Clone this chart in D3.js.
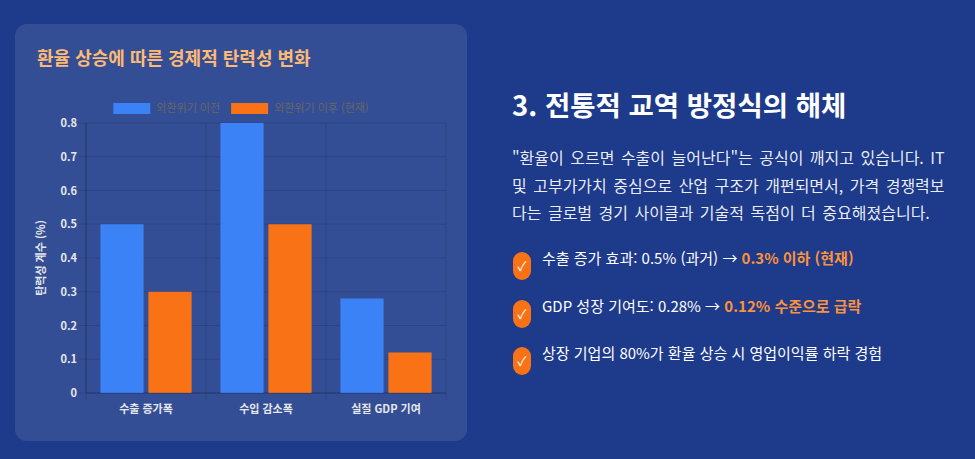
<!DOCTYPE html>
<html lang="ko">
<head>
<meta charset="utf-8">
<script src="https://cdn.jsdelivr.net/npm/d3@7"></script>
<style>
  html, body { margin: 0; padding: 0; }
  body {
    width: 975px; height: 459px; overflow: hidden; position: relative;
    background: #1e3a8a;
    font-family: "Noto Sans CJK KR", "Noto Sans", sans-serif;
    color: #fff;
  }
  .card {
    position: absolute; left: 15px; top: 24px; width: 452px; height: 417px;
    background: rgba(255,255,255,0.1); border-radius: 12px;
  }
  .card svg { position: absolute; left: 0; top: 0; }
  .side { position: absolute; left: 512px; top: 0; width: 450px; }
  .side h2 {
    position: absolute; top: 85px; left: 0; margin: 0;
    font-size: 27.5px; line-height: 38px; font-weight: 700; white-space: nowrap;
  }
  .side p {
    position: absolute; top: 144px; left: 0; margin: 0;
    font-size: 16px; line-height: 27.5px; word-spacing: 2px;
    color: rgba(255,255,255,0.92); white-space: nowrap;
  }
  .side ul { position: absolute; top: 247px; left: 0; margin: 0; padding: 0; list-style: none; }
  .side li {
    position: relative; height: 47.5px; padding-left: 30px;
    font-size: 15px; line-height: 22px; white-space: nowrap; color: #fff;
  }
  .side li .chk {
    position: absolute; left: 1px; top: 5px; width: 18px; height: 28px;
    border-radius: 9px; background: #f97316; color: #fff;
    font-size: 13px; line-height: 28px; text-align: center;
  }
  .side li b { color: #fb923c; font-weight: 700; }
</style>
</head>
<body>
<div class="card"><svg id="chart"></svg></div>
<div class="side">
  <h2>3. 전통적 교역 방정식의 해체</h2>
  <p>"환율이 오르면 수출이 늘어난다"는 공식이 깨지고 있습니다. IT<br>및 고부가가치 중심으로 산업 구조가 개편되면서, 가격 경쟁력보<br>다는 글로벌 경기 사이클과 기술적 독점이 더 중요해졌습니다.</p>
  <ul>
    <li><span class="chk">✓</span>수출 증가 효과: 0.5% (과거) → <b>0.3% 이하 (현재)</b></li>
    <li><span class="chk">✓</span>GDP 성장 기여도: 0.28% → <b>0.12% 수준으로 급락</b></li>
    <li><span class="chk">✓</span>상장 기업의 80%가 환율 상승 시 영업이익률 하락 경험</li>
  </ul>
</div>
<script>
const chartTitle = '환율 상승에 따른 경제적 탄력성 변화';
const categories = ['수출 증가폭', '수입 감소폭', '실질 GDP 기여'];
const seriesNames = ['외환위기 이전', '외환위기 이후 (현재)'];
const beforeCrisis = [0.5, 0.8, 0.28];
const afterCrisis = [0.3, 0.5, 0.12];
const yTicks = [0, 0.1, 0.2, 0.3, 0.4, 0.5, 0.6, 0.7, 0.8];
const yTitle = '탄력성 계수 (%)';
const colors = ['#3b82f6', '#f97316'];

const W = 452, H = 417;
const margin = {top: 99, right: 21, bottom: 48, left: 71};
const width = W - margin.left - margin.right,
  height = H - margin.top - margin.bottom;

const svgTop = d3.select('#chart').attr('width', W).attr('height', H);
const font = '"Noto Sans CJK KR", sans-serif';

svgTop.append('text')
  .attr('x', 22).attr('y', 41)
  .attr('fill', '#fdba74')
  .attr('font-family', font).attr('font-size', 18).attr('font-weight', 700)
  .text(chartTitle);

// legend, centred on card like Chart.js does
const legend = svgTop.append('g').attr('class', 'legend');
const items = legend.selectAll('g').data(seriesNames).enter().append('g');
items.append('rect')
  .attr('width', 37).attr('height', 11)
  .attr('fill', (d, i) => colors[i]);
items.append('text')
  .attr('x', 43).attr('y', 5.5).attr('dy', '0.35em')
  .attr('fill', '#666')
  .attr('font-family', font).attr('font-size', 11)
  .text(d => d);
let off = 0;
const offs = [];
items.each(function () {
  offs.push(off);
  off += 43 + this.querySelector('text').getComputedTextLength() + 11;
});
const legendW = off - 11;
items.attr('transform', (d, i) => `translate(${W / 2 - legendW / 2 + offs[i]},79)`);

const svg = svgTop.append('g')
  .attr('transform', `translate(${margin.left},${margin.top})`);

const x0 = d3.scaleBand().domain(categories).range([0, width]);
const x1 = d3.scaleBand()
  .domain(seriesNames)
  .range([x0.bandwidth() * 0.1, x0.bandwidth() * 0.9]);
const barW = x1.bandwidth() * 0.9;

const y = d3.scaleLinear().domain([0, 0.8]).range([height, 0]);

const gridColor = 'rgba(0,0,0,0.12)';

// horizontal grid
svg.append('g').selectAll('line').data(yTicks).enter().append('line')
  .attr('x1', -8).attr('x2', width)
  .attr('y1', d => y(d)).attr('y2', d => y(d))
  .attr('stroke', gridColor);

// vertical grid at category edges
const edges = categories.map(c => x0(c)).concat([width]);
svg.append('g').selectAll('line').data(edges).enter().append('line')
  .attr('x1', d => d).attr('x2', d => d)
  .attr('y1', 0).attr('y2', height + 8)
  .attr('stroke', gridColor);

const rows = categories.map((c, i) => ({cat: c, vals: [beforeCrisis[i], afterCrisis[i]]}));

svg.selectAll('.bar-group')
  .data(rows)
  .enter().append('g')
    .attr('class', 'bar-group')
    .attr('transform', d => `translate(${x0(d.cat)},0)`)
    .selectAll('rect')
      .data(d => d.vals)
      .enter().append('rect')
      .attr('x', (d, i) => x1(seriesNames[i]) + (x1.bandwidth() - barW) / 2)
      .attr('width', barW)
      .attr('y', d => y(d))
      .attr('height', d => height - y(d))
      .attr('fill', (d, i) => colors[i]);

// axis lines
svg.append('line').attr('x1', 0).attr('x2', width).attr('y1', height).attr('y2', height)
  .attr('stroke', 'rgba(0,0,0,0.2)');
svg.append('line').attr('x1', 0).attr('x2', 0).attr('y1', 0).attr('y2', height)
  .attr('stroke', 'rgba(0,0,0,0.2)');

const yAxis = d3.axisLeft(y).tickValues(yTicks).tickSize(8).tickPadding(1).tickFormat(d => String(d));
const xAxis = d3.axisBottom(x0).tickSize(8).tickPadding(4);

const gy = svg.append('g').call(yAxis);
const gx = svg.append('g').attr('transform', `translate(0,${height})`).call(xAxis);
[gx, gy].forEach(g => {
  g.select('.domain').remove();
  g.selectAll('.tick line').remove();
  g.selectAll('text')
    .attr('fill', '#e5e7eb')
    .attr('font-family', font).attr('font-size', 11).attr('font-weight', 700);
});

svgTop.append('text')
  .attr('transform', `translate(26,${margin.top + height / 2}) rotate(-90)`)
  .attr('text-anchor', 'middle').attr('dy', '0.35em')
  .attr('fill', '#e5e7eb')
  .attr('font-family', font).attr('font-size', 11).attr('font-weight', 700)
  .text(yTitle);
</script>
</body>
</html>
